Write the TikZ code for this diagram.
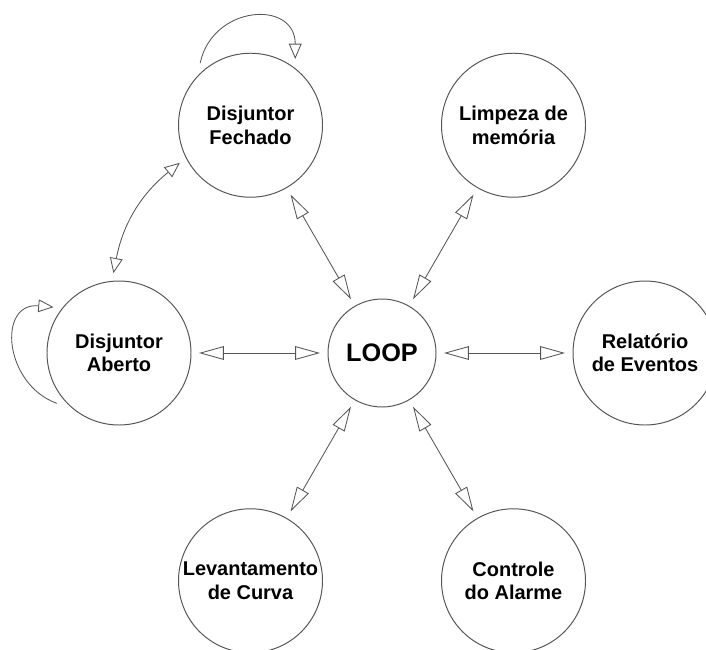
\documentclass[tikz,border=0pt]{standalone}
\usepackage{fontspec}
\setmainfont{Liberation Sans}
\usetikzlibrary{positioning,calc,arrows.meta}
\definecolor{LinhaCinza}{RGB}{85,85,85}

\begin{document}
\begin{tikzpicture}[
    % Estados da maquina
    estado/.style={circle, draw=LinhaCinza, line width=0.7pt, minimum size=3.6cm,
        inner sep=0pt, outer sep=0.2cm, align=center,
        font=\fontsize{14.2}{16.6}\selectfont\bfseries},
    seta/.style={{Triangle[open,length=0.62cm,width=0.34cm]}-{Triangle[open,length=0.62cm,width=0.34cm]},
        draw=LinhaCinza, line width=0.6pt},
    curva/.style={{Triangle[open,length=0.38cm,width=0.32cm]}-{Triangle[open,length=0.38cm,width=0.32cm]},
        draw=LinhaCinza, line width=0.6pt},
    laco/.style={-{Triangle[open,length=0.38cm,width=0.32cm]}, draw=LinhaCinza, line width=0.6pt}
]
    \useasboundingbox (0,0) rectangle (17.65,-16.225);
    % Centro
    \node[estado, minimum size=2.7cm, font=\fontsize{18}{21}\selectfont\bfseries] (loop) at (9.55,-8.825) {LOOP};
    % Em volta
    \node[estado] (fech) at ($(loop)+(120:6.575)$) {Disjuntor\\Fechado};
    \node[estado] (limp) at ($(loop)+(60:6.575)$) {Limpeza de\\memória};
    \node[estado] (aber) at ($(loop)+(180:6.575)$) {Disjuntor\\Aberto};
    \node[estado] (rel) at ($(loop)+(0:6.575)$) {Relatório\\de Eventos};
    \node[estado] (lev) at ($(loop)+(240:6.575)$) {Levantamento\\de Curva};
    \node[estado] (ctrl) at ($(loop)+(300:6.575)$) {Controle\\do Alarme};

    % Ligacoes
    \draw[seta] (fech) -- (loop);
    \draw[seta] (loop) -- (limp);
    \draw[seta] (aber) -- (loop);
    \draw[seta] (loop) -- (rel);
    \draw[seta] (loop) -- (lev);
    \draw[seta] (loop) -- (ctrl);
    \draw[curva] (fech.208) to[bend right=20] (aber.94);

    % Lacos
    \draw[laco] (fech.129) to[out=78, in=90, looseness=1.6] (fech.56);
    \draw[laco] (aber.219) to[out=160, in=175, looseness=1.5] (aber.145);
\end{tikzpicture}
\end{document}
